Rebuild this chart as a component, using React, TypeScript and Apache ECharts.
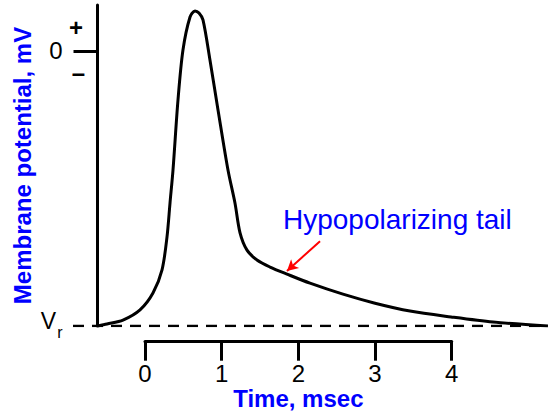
import React, { useEffect, useRef } from 'react';
import * as echarts from 'echarts';

// Time axis (msec) and membrane potential (mV)
const timeMs = [-0.613, -0.495, -0.287, -0.065, 0.104, 0.222, 0.287, 0.326, 0.365, 0.43, 0.495, 0.587, 0.652, 0.704, 0.756, 0.847, 0.952, 1.082, 1.173, 1.239, 1.33, 1.46, 1.63, 1.851, 2.151, 2.581, 2.999, 3.455, 3.99, 4.537, 5.254];
const potentialMv = [-70, -69.5, -68.5, -65.9, -61.6, -55.7, -47.3, -38.7, -30.3, -12.5, 0.25, 8.65, 10.2, 9.66, 7.9, -2.3, -15.0, -30.3, -38.7, -46.3, -50.7, -53.2, -55.0, -56.8, -59.1, -61.9, -64.2, -66.2, -67.7, -69.0, -70];
const restingMv = -70;
const timeTicks = [0, 1, 2, 3, 4];
const potentialTicks = [0];
const potentialLabels = [restingMv, 0];
const arrowFrom = [2.282, -48.4];
const arrowTo = [1.851, -56.0];
const tailLabel = 'Hypopolarizing tail';
const xName = 'Time, msec';
const yName = 'Membrane potential, mV';

const X_MIN = -0.9387;
const X_MAX = 5.2542;
const Y_MIN = -70;
const Y_MAX = 11.7;
const FONT = '"Liberation Sans", Arial, sans-serif';
const BLUE = '#0000ff';

export default function App() {
  const ref = useRef<HTMLDivElement>(null);
  useEffect(() => {
    if (!ref.current) return;
    const chart = echarts.init(ref.current, undefined, { renderer: 'svg' });
    const curve = timeMs.map((t, i) => [t, potentialMv[i]]);
    chart.setOption({
      animation: false,
      backgroundColor: '#ffffff',
      textStyle: { fontFamily: FONT },
      grid: [
        { left: 73, top: 5, width: 475, height: 321, containLabel: false },
        { left: 145, top: 300, width: 306.7, height: 41.7, containLabel: false },
        { left: 97.5, top: 5, width: 10, height: 321, containLabel: false },
      ],
      xAxis: [
        { gridIndex: 0, type: 'value', min: X_MIN, max: X_MAX, show: false },
        {
          gridIndex: 1,
          type: 'value',
          min: timeTicks[0],
          max: timeTicks[timeTicks.length - 1],
          interval: 1,
          position: 'bottom',
          axisLine: { show: true, onZero: false, lineStyle: { color: '#000', width: 3 } },
          axisTick: { show: true, length: 19, lineStyle: { color: '#000', width: 3 } },
          axisLabel: { margin: 20, fontSize: 24, color: '#000', fontFamily: FONT },
          splitLine: { show: false },
          name: xName,
          nameLocation: 'middle',
          nameGap: 45,
          nameTextStyle: { color: BLUE, fontSize: 24, fontWeight: 'bold', fontFamily: FONT },
        },
        { gridIndex: 2, type: 'value', min: 0, max: 1, show: false },
      ],
      yAxis: [
        { gridIndex: 0, type: 'value', min: Y_MIN, max: Y_MAX, show: false },
        { gridIndex: 1, type: 'value', min: 0, max: 1, show: false },
        {
          gridIndex: 2,
          type: 'value',
          min: Y_MIN,
          max: Y_MAX,
          position: 'left',
          axisLine: { show: true, onZero: false, lineStyle: { color: '#000', width: 3 } },
          axisTick: { show: true, customValues: potentialTicks, length: 24, lineStyle: { color: '#000', width: 3 } },
          axisLabel: {
            customValues: potentialLabels,
            margin: 35,
            fontSize: 24,
            color: '#000',
            fontFamily: FONT,
            formatter: (v: number) => (v === restingMv ? '{v|V}{s|r}' : String(v)),
            rich: {
              v: { fontSize: 23, color: '#000', fontFamily: FONT, padding: [0, 0, 10, 0] },
              s: { fontSize: 16, color: '#000', fontFamily: FONT, padding: [12, 0, 0, 1] },
            },
          },
          splitLine: { show: false },
          name: yName,
          nameLocation: 'middle',
          nameRotate: 90,
          nameGap: 63,
          nameTextStyle: { color: BLUE, fontSize: 24, fontWeight: 'bold', fontFamily: FONT },
        },
      ],
      series: [
        {
          type: 'line',
          xAxisIndex: 0,
          yAxisIndex: 0,
          data: [[X_MIN, restingMv], [X_MAX, restingMv]],
          symbol: 'none',
          silent: true,
          lineStyle: { color: '#000', width: 2.5, type: [11, 8] },
        },
        {
          type: 'line',
          xAxisIndex: 0,
          yAxisIndex: 0,
          data: curve,
          symbol: 'none',
          smooth: 0.3,
          silent: true,
          lineStyle: { color: '#000', width: 3 },
          markLine: {
            silent: true,
            symbol: ['none', 'arrow'],
            symbolSize: [9, 11],
            label: { show: false },
            lineStyle: { color: '#ff0000', width: 2, type: 'solid' },
            emphasis: { disabled: true },
            data: [[{ coord: arrowFrom }, { coord: arrowTo }]],
          },
        },
      ],
      graphic: [
        {
          type: 'text',
          x: 283,
          y: 219,
          style: { text: tailLabel, font: `28px ${FONT}`, fill: BLUE, textAlign: 'left', textVerticalAlign: 'middle' },
        },
        {
          type: 'text',
          x: 76,
          y: 27.5,
          style: { text: '+', font: `bold 24px ${FONT}`, fill: '#000', textAlign: 'center', textVerticalAlign: 'middle' },
        },
        {
          type: 'text',
          x: 78.5,
          y: 72,
          style: { text: '–', font: `bold 24px ${FONT}`, fill: '#000', textAlign: 'center', textVerticalAlign: 'middle' },
        },
      ],
    });
    return () => chart.dispose();
  }, []);
  return (
    <div
      ref={ref}
      style={{ position: 'fixed', left: 0, top: 0, width: 548, height: 419, background: '#fff' }}
    />
  );
}
